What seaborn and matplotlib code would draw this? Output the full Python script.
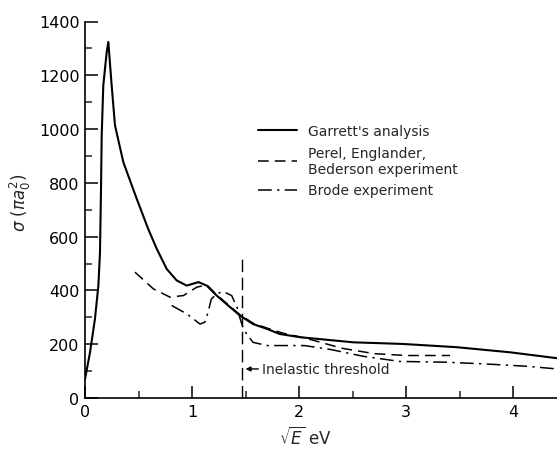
import numpy as np
import pandas as pd
import matplotlib
matplotlib.use("Agg")
import matplotlib.pyplot as plt
import seaborn as sns
from matplotlib.ticker import MultipleLocator

# ---- data ----
garrett_x = [0, 0.047, 0.093, 0.125, 0.14, 0.15, 0.156, 0.171, 0.203, 0.218, 0.249, 0.28, 0.358,
             0.483, 0.59, 0.67, 0.763, 0.857, 0.95, 1.06, 1.137, 1.23, 1.355, 1.45, 1.57, 1.70,
             1.82, 2.01, 2.51, 2.97, 3.47, 3.97, 4.41]
garrett_y = [70, 170, 294, 418, 542, 790, 977, 1163, 1287, 1324, 1163, 1014, 877,
             741, 629, 555, 480, 437, 418, 431, 418, 381, 338, 306, 275, 257,
             238, 226, 207, 201, 189, 170, 148]

perel_x = [0.467, 0.638, 0.794, 0.92, 1.044, 1.137, 1.23, 1.355, 1.45, 1.57, 1.70, 1.85,
           2.0, 2.13, 2.4, 2.7, 3.0, 3.41]
perel_y = [468, 406, 375, 381, 412, 421, 384, 341, 309, 278, 260, 241,
           228, 215, 185, 165, 158, 158]

brode_x = [0.81, 0.95, 1.075, 1.12, 1.15, 1.18, 1.23, 1.29, 1.37, 1.42, 1.45, 1.48, 1.51,
           1.57, 1.70, 1.85, 2.05, 2.3, 2.6, 2.94, 3.38, 3.72, 4.13, 4.41]
brode_y = [344, 313, 275, 282, 319, 368, 387, 396, 381, 338, 294, 257, 238,
           207, 195, 195, 195, 180, 155, 136, 133, 127, 118, 108]

threshold_x = 1.47
threshold_top = 520
threshold_label = "Inelastic threshold"
threshold_label_y = 108

labels = ["Garrett's analysis", "Perel, Englander,\nBederson experiment", "Brode experiment"]

x_ticks = [0, 1, 2, 3, 4]
y_ticks = [0, 200, 400, 600, 800, 1000, 1200, 1400]

# ---- plot ----
sns.set_theme(style="ticks")
plt.rcParams['font.family'] = ['DejaVu Sans']

fig = plt.figure(figsize=(5.57, 4.56), dpi=100)
ax = fig.add_axes([85/557, 1-399/456, 1-85/557, (399-22.5)/456])

df_g = pd.DataFrame({"x": garrett_x, "y": garrett_y})
df_p = pd.DataFrame({"x": perel_x, "y": perel_y})
df_b = pd.DataFrame({"x": brode_x, "y": brode_y})

sns.lineplot(data=df_g, x="x", y="y", ax=ax, sort=False, color="black", lw=1.5,
             label=labels[0])
sns.lineplot(data=df_p, x="x", y="y", ax=ax, sort=False, color="black", lw=1.1,
             label=labels[1], dashes=False)
ax.lines[-1].set_dashes([7, 4])
sns.lineplot(data=df_b, x="x", y="y", ax=ax, sort=False, color="black", lw=1.1,
             label=labels[2])
ax.lines[-1].set_dashes([9, 3.5, 1.5, 3.5])

ax.plot([threshold_x, threshold_x], [0, threshold_top], color="black", lw=1.0,
        dashes=[9, 4])

ax.annotate(threshold_label, xy=(threshold_x + 0.03, threshold_label_y),
            xytext=(threshold_x + 0.18, threshold_label_y),
            fontsize=10, va="center", ha="left",
            arrowprops=dict(arrowstyle="-|>", color="black", lw=1.0,
                            mutation_scale=7, shrinkA=0, shrinkB=0))

ax.set_xlim(0, 4.41)
ax.set_ylim(0, 1400)
ax.set_xticks(x_ticks)
ax.set_yticks(y_ticks)
ax.xaxis.set_minor_locator(MultipleLocator(0.5))
ax.yaxis.set_minor_locator(MultipleLocator(100))
ax.tick_params(which="major", direction="in", length=9, width=1.1, labelsize=11.5,
               colors="black", pad=4)
ax.tick_params(which="minor", direction="in", length=5, width=1.1)

for s in ["top", "right"]:
    ax.spines[s].set_visible(False)
for s in ["left", "bottom"]:
    ax.spines[s].set_linewidth(1.2)
    ax.spines[s].set_color("black")

ax.set_xlabel(r"$\sqrt{E}$ eV", fontsize=12)
ax.xaxis.set_label_coords((306-85)/(557-85), -0.075)
ax.set_ylabel(r"$\sigma\ (\pi a_0^2)$", fontsize=12)
ax.yaxis.set_label_coords(-0.11, 0.52)

leg = ax.legend(loc="upper left", bbox_to_anchor=((258-85)/(557-85), 1-(125-22.5)/(399-22.5)),
                frameon=False, fontsize=10, handlelength=2.8, handletextpad=0.8,
                labelspacing=0.55, borderaxespad=0, borderpad=0)
for h in leg.get_lines():
    h.set_color("black")

fig.savefig("out.png", dpi=100)
